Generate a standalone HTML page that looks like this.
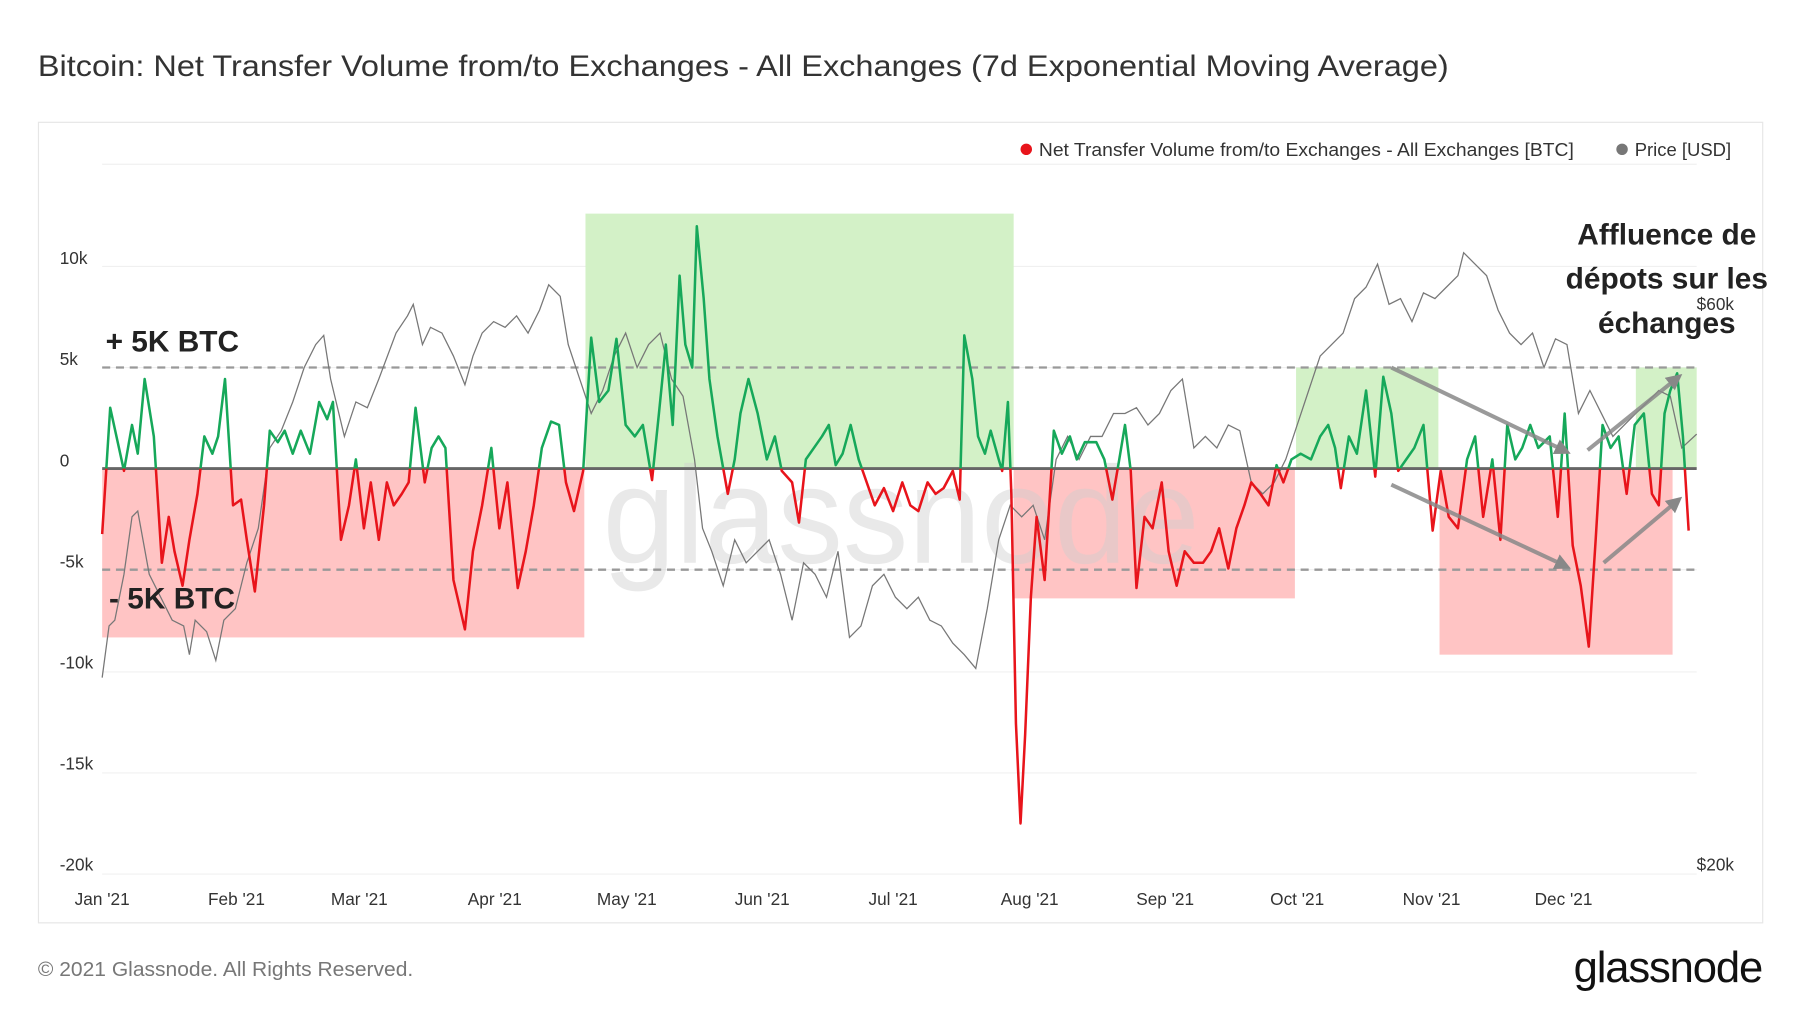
<!DOCTYPE html>
<html><head><meta charset="utf-8"><style>html,body{margin:0;padding:0;background:#fff}svg{display:block}text{font-family:"Liberation Sans",sans-serif}</style></head><body>
<svg width="1800" height="1013" viewBox="0 0 1568 882" preserveAspectRatio="none" xmlns="http://www.w3.org/2000/svg">
<defs>
<clipPath id="top"><rect x="0" y="0" width="1568" height="408"/></clipPath>
<clipPath id="bot"><rect x="0" y="408" width="1568" height="474"/></clipPath>
<marker id="ah" markerWidth="4" markerHeight="4" refX="2" refY="2" orient="auto" markerUnits="strokeWidth"><path d="M0,0 L4,2 L0,4 z" fill="#888"/></marker>
</defs>
<text x="33" y="66" font-size="26" fill="#333" textLength="1229" lengthAdjust="spacingAndGlyphs">Bitcoin: Net Transfer Volume from/to Exchanges - All Exchanges (7d Exponential Moving Average)</text>
<rect x="33.5" y="106.5" width="1502" height="697" fill="none" stroke="#e6e6e6"/>
<circle cx="894" cy="130" r="5" fill="#e8141b"/>
<text x="905" y="136" font-size="16" fill="#333" textLength="466" lengthAdjust="spacingAndGlyphs">Net Transfer Volume from/to Exchanges - All Exchanges [BTC]</text>
<circle cx="1413" cy="130" r="5" fill="#777"/>
<text x="1424" y="136" font-size="16" fill="#333" textLength="84" lengthAdjust="spacingAndGlyphs">Price [USD]</text>
<g stroke="#f0f0f0" stroke-width="1">
<line x1="89" y1="143" x2="1478" y2="143"/><line x1="89" y1="232" x2="1478" y2="232"/><line x1="89" y1="320" x2="1478" y2="320"/><line x1="89" y1="496" x2="1478" y2="496"/><line x1="89" y1="585" x2="1478" y2="585"/><line x1="89" y1="673" x2="1478" y2="673"/><line x1="89" y1="761" x2="1478" y2="761"/>
</g>
<g font-size="15" fill="#333">
<text x="52" y="230">10k</text><text x="52" y="318">5k</text><text x="52" y="406">0</text><text x="52" y="494">-5k</text><text x="52" y="582">-10k</text><text x="52" y="670">-15k</text><text x="52" y="758">-20k</text>
<text x="1478" y="270">$60k</text><text x="1478" y="758">$20k</text>
</g>
<g font-size="15" fill="#333" text-anchor="middle">
<text x="89" y="788">Jan '21</text><text x="206" y="788">Feb '21</text><text x="313" y="788">Mar '21</text><text x="431" y="788">Apr '21</text><text x="546" y="788">May '21</text><text x="664" y="788">Jun '21</text><text x="778" y="788">Jul '21</text><text x="897" y="788">Aug '21</text><text x="1015" y="788">Sep '21</text><text x="1130" y="788">Oct '21</text><text x="1247" y="788">Nov '21</text><text x="1362" y="788">Dec '21</text>
</g>
<rect x="89" y="408" width="420" height="147" fill="#ffc4c4"/>
<rect x="510" y="186" width="373" height="222" fill="#d3f1c7"/>
<rect x="883" y="408" width="245" height="113" fill="#ffc4c4"/>
<rect x="1129" y="320" width="124" height="88" fill="#d3f1c7"/>
<rect x="1254" y="408" width="203" height="162" fill="#ffc4c4"/>
<rect x="1425" y="320" width="53" height="88" fill="#d3f1c7"/>
<text x="525" y="490" font-size="120" fill="#cfcfcf" fill-opacity="0.45" textLength="520" lengthAdjust="spacingAndGlyphs">glassnode</text>
<g stroke="#999" stroke-width="2" stroke-dasharray="7,5"><line x1="89" y1="320" x2="1478" y2="320"/><line x1="89" y1="496" x2="1478" y2="496"/></g>
<polyline fill="none" stroke="#777" stroke-width="1.1" points="89,590 95,545 100,540 108,500 115,450 120,445 130,500 140,520 150,540 160,545 165,570 170,540 180,550 188,575 195,540 205,530 215,490 225,460 235,390 245,375 255,350 265,320 275,300 282,292 288,330 300,380 310,350 320,355 330,330 345,290 355,275 360,265 368,300 375,285 385,290 395,310 405,335 412,310 420,290 430,280 440,285 450,275 460,290 470,270 478,248 488,258 495,300 505,330 515,360 525,340 535,310 545,290 555,320 565,300 575,290 585,330 595,345 605,400 612,460 620,480 630,510 640,470 650,490 660,480 670,470 680,500 690,540 700,490 710,500 720,520 730,480 740,555 750,545 760,510 770,500 780,520 790,530 800,520 810,540 820,545 830,560 840,570 850,582 860,530 870,470 880,440 890,450 900,440 910,470 920,400 930,380 940,400 950,380 960,380 970,360 980,360 990,355 1000,370 1010,360 1020,340 1030,330 1040,390 1050,380 1060,390 1070,370 1080,375 1090,420 1100,430 1110,420 1120,400 1130,370 1140,340 1150,310 1160,300 1170,290 1180,260 1190,250 1200,230 1210,265 1220,260 1230,280 1240,255 1250,260 1260,250 1270,240 1275,220 1285,230 1295,240 1305,270 1315,290 1325,300 1335,290 1345,320 1355,295 1365,300 1375,360 1385,340 1395,360 1405,380 1415,370 1425,360 1435,350 1445,340 1455,345 1465,390 1478,378"/>
<line x1="89" y1="408" x2="1478" y2="408" stroke="#666" stroke-width="2.5"/>
<g fill="none" stroke-width="2.2" stroke-linejoin="round">
<g clip-path="url(#top)"><polyline stroke="#16a85a" points="89,465 96,355 108,410 115,370 120,395 126,330 134,380 141,490 147,450 152,480 159,510 165,470 172,430 178,380 185,395 190,380 196,330 203,440 210,435 215,470 222,515 230,440 235,375 242,385 248,375 255,395 262,375 270,395 278,350 285,365 290,350 297,470 304,440 310,400 317,460 323,420 330,470 337,420 343,440 350,430 356,420 362,355 370,420 376,390 382,380 388,390 395,505 405,548 412,480 420,440 428,390 435,460 442,420 451,512 458,480 465,440 472,390 480,367 487,370 493,420 500,445 508,410 515,294 522,350 530,340 537,295 545,370 553,380 560,370 568,418 574,360 580,300 586,370 592,240 597,300 603,320 607,197 613,260 618,330 625,380 634,430 640,400 645,360 652,330 660,360 668,400 675,380 681,410 690,420 696,455 702,400 709,390 716,380 722,370 728,405 734,395 741,370 748,400 755,420 762,440 770,425 778,445 786,420 793,440 800,445 808,420 815,430 822,425 830,410 836,435 840,292 847,330 852,380 858,395 863,375 870,400 873,410 878,350 881,430 885,630 889,717 893,640 898,520 903,450 910,505 918,375 925,395 932,380 938,400 945,385 955,385 962,400 969,435 975,400 980,370 985,410 990,512 997,450 1004,460 1012,420 1018,480 1025,510 1032,480 1040,490 1048,490 1055,480 1062,460 1070,495 1077,460 1084,440 1090,420 1098,430 1105,440 1112,405 1118,420 1125,400 1133,395 1142,400 1150,380 1157,370 1163,390 1168,425 1175,380 1182,395 1190,340 1198,415 1205,328 1212,360 1218,410 1225,400 1232,390 1240,370 1248,462 1255,410 1262,450 1270,460 1278,400 1285,380 1292,450 1300,400 1307,470 1313,370 1320,400 1326,390 1333,370 1340,390 1350,380 1357,450 1363,360 1370,475 1377,510 1384,563 1390,470 1396,370 1403,390 1410,380 1417,430 1424,370 1432,360 1439,430 1445,440 1450,360 1455,340 1461,325 1466,380 1471,462"/></g>
<g clip-path="url(#bot)"><polyline stroke="#e8141b" points="89,465 96,355 108,410 115,370 120,395 126,330 134,380 141,490 147,450 152,480 159,510 165,470 172,430 178,380 185,395 190,380 196,330 203,440 210,435 215,470 222,515 230,440 235,375 242,385 248,375 255,395 262,375 270,395 278,350 285,365 290,350 297,470 304,440 310,400 317,460 323,420 330,470 337,420 343,440 350,430 356,420 362,355 370,420 376,390 382,380 388,390 395,505 405,548 412,480 420,440 428,390 435,460 442,420 451,512 458,480 465,440 472,390 480,367 487,370 493,420 500,445 508,410 515,294 522,350 530,340 537,295 545,370 553,380 560,370 568,418 574,360 580,300 586,370 592,240 597,300 603,320 607,197 613,260 618,330 625,380 634,430 640,400 645,360 652,330 660,360 668,400 675,380 681,410 690,420 696,455 702,400 709,390 716,380 722,370 728,405 734,395 741,370 748,400 755,420 762,440 770,425 778,445 786,420 793,440 800,445 808,420 815,430 822,425 830,410 836,435 840,292 847,330 852,380 858,395 863,375 870,400 873,410 878,350 881,430 885,630 889,717 893,640 898,520 903,450 910,505 918,375 925,395 932,380 938,400 945,385 955,385 962,400 969,435 975,400 980,370 985,410 990,512 997,450 1004,460 1012,420 1018,480 1025,510 1032,480 1040,490 1048,490 1055,480 1062,460 1070,495 1077,460 1084,440 1090,420 1098,430 1105,440 1112,405 1118,420 1125,400 1133,395 1142,400 1150,380 1157,370 1163,390 1168,425 1175,380 1182,395 1190,340 1198,415 1205,328 1212,360 1218,410 1225,400 1232,390 1240,370 1248,462 1255,410 1262,450 1270,460 1278,400 1285,380 1292,450 1300,400 1307,470 1313,370 1320,400 1326,390 1333,370 1340,390 1350,380 1357,450 1363,360 1370,475 1377,510 1384,563 1390,470 1396,370 1403,390 1410,380 1417,430 1424,370 1432,360 1439,430 1445,440 1450,360 1455,340 1461,325 1466,380 1471,462"/></g>
</g>
<g stroke="#888" stroke-opacity="0.85" stroke-width="3.5" marker-end="url(#ah)">
<line x1="1212" y1="320" x2="1362" y2="392"/>
<line x1="1212" y1="422" x2="1362" y2="492"/>
<line x1="1383" y1="392" x2="1460" y2="330"/>
<line x1="1397" y1="490" x2="1460" y2="437"/>
</g>
<g font-size="26" font-weight="bold" fill="#222">
<text x="92" y="306">+ 5K BTC</text>
<text x="95" y="530">- 5K BTC</text>
<text x="1452" y="213" text-anchor="middle">Affluence de</text>
<text x="1452" y="251" text-anchor="middle">dépots sur les</text>
<text x="1452" y="290" text-anchor="middle">échanges</text>
</g>
<text x="33" y="850" font-size="18" fill="#777" textLength="327" lengthAdjust="spacingAndGlyphs">© 2021 Glassnode. All Rights Reserved.</text>
<text x="1535" y="855" font-size="38" fill="#111" text-anchor="end" letter-spacing="-1">glassnode</text>
</svg>
</body></html>
